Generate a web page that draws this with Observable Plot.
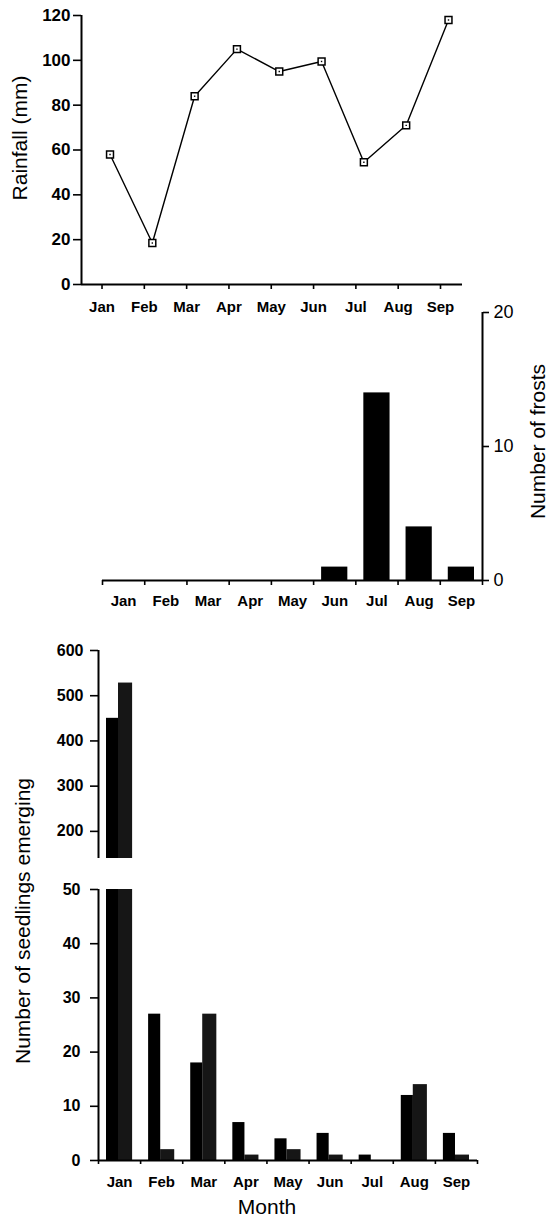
<!DOCTYPE html>
<html>
<head>
<meta charset="utf-8">
<script src="https://cdn.jsdelivr.net/npm/d3@7"></script>
<script src="https://cdn.jsdelivr.net/npm/@observablehq/plot@0.6"></script>
<style>
  body { margin: 0; background: #fff; }
  #chart { position: relative; width: 555px; height: 1221px; overflow: hidden; background: #fff; }
  #chart svg { position: absolute; left: 0; background: transparent; overflow: visible; }
</style>
</head>
<body>
<div id="chart"></div>
<script>
// Monthly data, January to September
const months = ["Jan", "Feb", "Mar", "Apr", "May", "Jun", "Jul", "Aug", "Sep"];
const rainfall = [58, 18.5, 84, 105, 95, 99.5, 54.5, 71, 118];      // mm
const frosts = [0, 0, 0, 0, 0, 1, 14, 4, 1];                          // count
const seedlingsA = [450, 27, 18, 7, 4, 5, 1, 12, 5];                  // solid bars
const seedlingsB = [528, 2, 27, 1, 2, 1, 0, 14, 1];                   // stippled bars

const rainTicks = [0, 20, 40, 60, 80, 100, 120];
const frostTicks = [0, 10, 20];
const seedTicksHigh = [200, 300, 400, 500, 600];
const seedTicksLow = [0, 10, 20, 30, 40, 50];

const rainRows = months.map((m, i) => ({i, month: m, mm: rainfall[i]}));
const frostRows = months.map((m, i) => ({i, month: m, n: frosts[i]}));
const seedRows = months.map((m, i) => ({i, month: m, a: seedlingsA[i], b: seedlingsB[i]}));

const W = 555;
const titleFont = "Liberation Sans, Arial, sans-serif";
const tickFont = "Liberation Sans, Arial, sans-serif";
const chart = document.getElementById("chart");

function place(svg, top) {
  svg.style.top = top + "px";
  chart.appendChild(svg);
}

const monthBoundaries = d3.range(months.length + 1);
const monthCentres = d3.range(months.length).map(i => i + 0.5);
const monthName = d => months[Math.floor(d)];

// Vertical axis title, centred on its anchor and read from bottom to top
const sideTitle = (text, frameAnchor, dx, dy) =>
  Plot.text([text], {frameAnchor, textAnchor: "middle", rotate: -90, dx, dy, fontSize: 21, fontFamily: titleFont});

// Rainfall line chart
place(Plot.plot({
  width: W, height: 320,
  marginTop: 15, marginBottom: 36, marginLeft: 81, marginRight: 93,
  style: {fontFamily: tickFont, color: "#000"},
  x: {type: "linear", domain: [-0.485, 8.52]},
  y: {domain: [0, 120]},
  marks: [
    Plot.ruleX([-0.485], {strokeWidth: 2}),
    Plot.ruleY([0], {strokeWidth: 2}),
    Plot.axisY(rainTicks, {tickSize: 8, tickPadding: 3, strokeWidth: 1.6, fontSize: 17, fontWeight: "bold", label: null}),
    Plot.axisX(d3.range(months.length), {tickSize: 5, tickPadding: 12, strokeWidth: 1.6, fontSize: 15, fontWeight: "bold", tickFormat: i => months[i], label: null}),
    Plot.line(rainRows, {x: "i", y: "mm", dx: 8, stroke: "#000", strokeWidth: 1.4}),
    Plot.dot(rainRows, {x: "i", y: "mm", dx: 8, symbol: "square", r: 3.9, fill: "#fff", stroke: "#000", strokeWidth: 1.5}),
    Plot.dot(rainRows, {x: "i", y: "mm", dx: 8, symbol: "square", r: 0.8, fill: "#000"}),
    sideTitle("Rainfall (mm)", "left", -61, -12)
  ]
}), 0);

// Frost bar chart with the axis on the right
place(Plot.plot({
  width: W, height: 320,
  marginTop: 12, marginBottom: 40, marginLeft: 102, marginRight: 73,
  style: {fontFamily: tickFont, color: "#000"},
  x: {type: "linear", domain: [0, 9]},
  y: {domain: [0, 20]},
  marks: [
    Plot.rectY(frostRows, {x: "i", interval: 1, y: "n", insetLeft: 8, insetRight: 8, fill: "#000"}),
    Plot.ruleY([0], {strokeWidth: 2}),
    Plot.ruleX([9], {strokeWidth: 2}),
    Plot.axisY(frostTicks, {anchor: "right", tickSize: 6, tickPadding: 5, strokeWidth: 1.6, fontSize: 18, label: null}),
    Plot.axisX(monthBoundaries, {tickSize: 5, strokeWidth: 1.6, tickFormat: () => "", label: null}),
    Plot.axisX(monthCentres, {tickSize: 0, tickPadding: 15, fontSize: 15, fontWeight: "bold", tickFormat: monthName, label: null}),
    sideTitle("Number of frosts", "right", 56, -5)
  ]
}), 300);

// Paired seedling bars, clipped to each half of the broken axis
const seedBars = () => [
  Plot.rectY(seedRows, {x: "i", interval: 1, y: "a", insetLeft: 8, insetRight: 22, fill: "#000", clip: true}),
  Plot.rectY(seedRows, {x: "i", interval: 1, y: "b", insetLeft: 20, insetRight: 8, fill: "#161616", clip: true})
];

// Seedlings, upper part of the broken axis
place(Plot.plot({
  width: W, height: 230,
  marginTop: 20, marginBottom: 2, marginLeft: 98, marginRight: 78,
  style: {fontFamily: tickFont, color: "#000"},
  x: {type: "linear", domain: [0, 9], axis: null},
  y: {domain: [140, 600]},
  marks: [
    ...seedBars(),
    Plot.ruleX([0], {strokeWidth: 2}),
    Plot.axisY(seedTicksHigh, {tickSize: 8, tickPadding: 7, strokeWidth: 1.6, fontSize: 16, fontWeight: "bold", label: null})
  ]
}), 630);

// Seedlings, lower part of the broken axis
place(Plot.plot({
  width: W, height: 351,
  marginTop: 19, marginBottom: 61, marginLeft: 98, marginRight: 78,
  style: {fontFamily: tickFont, color: "#000"},
  x: {type: "linear", domain: [0, 9]},
  y: {domain: [0, 50]},
  marks: [
    ...seedBars(),
    Plot.ruleX([0], {strokeWidth: 2}),
    Plot.ruleY([0], {strokeWidth: 2}),
    Plot.axisY(seedTicksLow, {tickSize: 8, tickPadding: 10, strokeWidth: 1.6, fontSize: 16, fontWeight: "bold", label: null}),
    Plot.axisX(monthBoundaries, {tickSize: 4, strokeWidth: 1.6, tickFormat: () => "", label: null}),
    Plot.axisX(monthCentres, {tickSize: 0, tickPadding: 16, fontSize: 15, fontWeight: "bold", tickFormat: monthName, label: null}),
    Plot.text(["Month"], {frameAnchor: "bottom", dx: -21, dy: 53, fontSize: 21, fontFamily: titleFont}),
    sideTitle("Number of seedlings emerging", "left", -75, -104)
  ]
}), 870);
</script>
</body>
</html>
